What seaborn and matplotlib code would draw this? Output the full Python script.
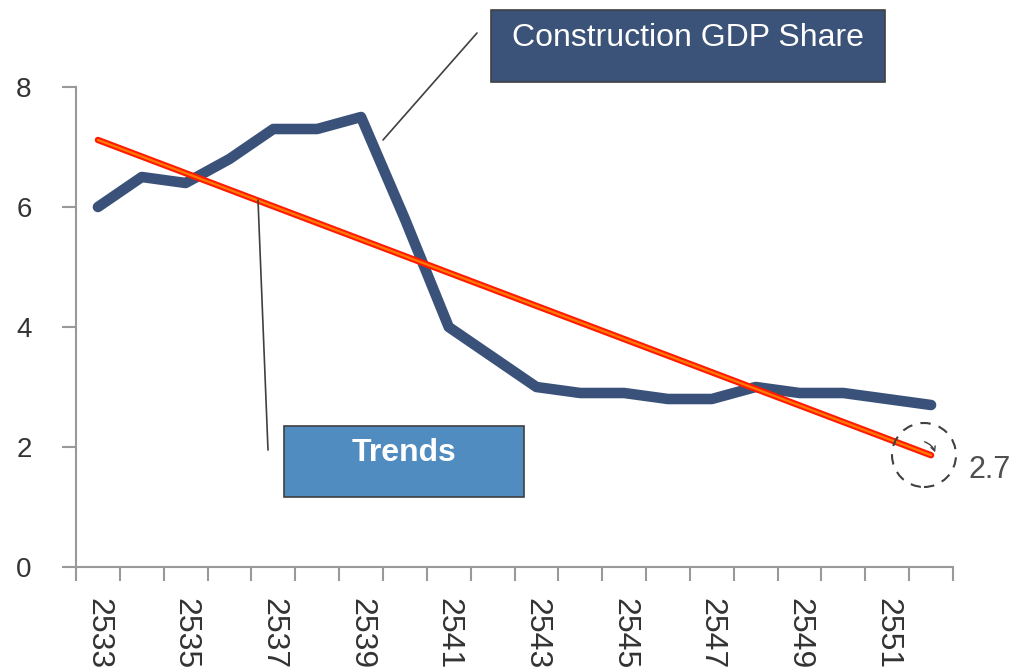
import matplotlib
matplotlib.use("Agg")
import matplotlib.pyplot as plt
from matplotlib.patches import Rectangle, Ellipse, FancyArrowPatch
from matplotlib.lines import Line2D
from matplotlib.transforms import ScaledTranslation
import seaborn as sns
import pandas as pd
import numpy as np

# ---- data ----
years = [2533, 2534, 2535, 2536, 2537, 2538, 2539, 2540, 2541, 2542,
         2543, 2544, 2545, 2546, 2547, 2548, 2549, 2550, 2551, 2552]
gdp_share = [6.0, 6.5, 6.4, 6.8, 7.3, 7.3, 7.5, 5.8, 4.0, 3.5,
             3.0, 2.9, 2.9, 2.8, 2.8, 3.0, 2.9, 2.9, 2.8, 2.7]
y_ticks = [0, 2, 4, 6, 8]
label_years = years[::2]
series_label = "Construction GDP Share"
trend_label = "Trends"
end_label = "2.7"

sns.set_theme(style="white")
plt.rcParams['font.family'] = ['Liberation Sans', 'DejaVu Sans']

W, H = 1010, 669
fig = plt.figure(figsize=(W / 100, H / 100), dpi=100)
ax = fig.add_axes([76 / W, (H - 567) / H, (953 - 76) / W, (567 - 87) / H])

df = pd.DataFrame({"pos": np.arange(len(years)), "year": years, "share": gdp_share})

sns.lineplot(data=df, x="pos", y="share", ax=ax, color="#3A5279", linewidth=7.6,
             solid_capstyle="round", solid_joinstyle="round")
# trend line (linear fit): red outer, orange core
sns.regplot(data=df, x="pos", y="share", ax=ax, scatter=False, ci=None, truncate=True,
            line_kws=dict(color="#FF1A00", linewidth=4.6, solid_capstyle="round"))
sns.regplot(data=df, x="pos", y="share", ax=ax, scatter=False, ci=None, truncate=True,
            line_kws=dict(color="#FF7A00", linewidth=1.6, solid_capstyle="round"))

ax.set_xlim(-0.5, len(years) - 0.5)
ax.set_ylim(0, 8)
ax.set_xlabel("")
ax.set_ylabel("")

ax.set_yticks(y_ticks)
ax.set_yticklabels([str(v) for v in y_ticks], fontsize=20, color="#333333")
ax.set_xticks([years.index(y) for y in label_years])
ax.set_xticklabels([str(y) for y in label_years], rotation=-90, fontsize=23,
                   color="#333333", ha="center", va="top")
ax.set_xticks(np.arange(-0.5, len(years), 1.0), minor=True)
shift = ScaledTranslation(-3 / 100, 0, fig.dpi_scale_trans)
for lab in ax.get_xticklabels():
    lab.set_transform(lab.get_transform() + shift)

for s in ["top", "right"]:
    ax.spines[s].set_visible(False)
for s in ["left", "bottom"]:
    ax.spines[s].set_color("#999999")
    ax.spines[s].set_linewidth(1.5)

ax.tick_params(axis="y", which="major", left=True, length=10, width=1.5,
               color="#999999", pad=22)
ax.tick_params(axis="x", which="major", bottom=True, length=0, pad=22)
ax.tick_params(axis="x", which="minor", bottom=True, length=10, width=1.5,
               color="#999999")


def fx(px):
    return px / W


def fy(py):
    return (H - py) / H


# leader lines
fig.add_artist(Line2D([fx(477), fx(383)], [fy(33), fy(140)], transform=fig.transFigure,
                      color="#404040", linewidth=1.2))
fig.add_artist(Line2D([fx(258), fx(268)], [fy(200), fy(450)], transform=fig.transFigure,
                      color="#404040", linewidth=1.2))

# label boxes
fig.add_artist(Rectangle((fx(491), fy(82)), fx(885) - fx(491), fy(10) - fy(82),
                         transform=fig.transFigure, facecolor="#3B5279",
                         edgecolor="#404040", linewidth=1.2))
fig.text(fx(688), fy(38), series_label, color="white", fontsize=23,
         ha="center", va="center")

fig.add_artist(Rectangle((fx(284), fy(497)), fx(524) - fx(284), fy(426) - fy(497),
                         transform=fig.transFigure, facecolor="#508CC0",
                         edgecolor="#404040", linewidth=1.2))
fig.text(fx(404), fy(453), trend_label, color="white", fontsize=23,
         fontweight="bold", ha="center", va="center")

# dashed circle, small pointer and end value
fig.add_artist(Ellipse((fx(924), fy(455)), 64 / W, 64 / H, transform=fig.transFigure,
                       fill=False, edgecolor="#404040", linewidth=1.5,
                       linestyle=(0, (5, 4))))
fig.add_artist(FancyArrowPatch((fx(922), fy(441)), (fx(936), fy(455)),
                               transform=fig.transFigure, arrowstyle="->",
                               mutation_scale=8, color="#404040", linewidth=1.0,
                               connectionstyle="arc3,rad=-0.3"))
fig.text(fx(968), fy(470), end_label, color="#505050", fontsize=22,
         ha="left", va="center")

fig.savefig("out.png", dpi=100)
